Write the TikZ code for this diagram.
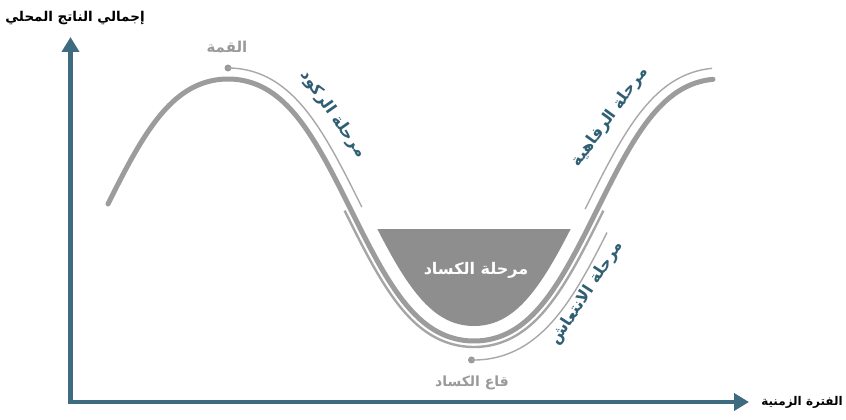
\documentclass[tikz,border=0pt]{standalone}
\usepackage{fontspec}
\usetikzlibrary{arrows.meta}
\TeXXeTstate=1
\newfontfamily\arabicfont[Script=Arabic]{DejaVu Sans}
\definecolor{axisteal}{HTML}{3E6B80}
\definecolor{curvegray}{HTML}{9C9C9C}
\definecolor{fillgray}{HTML}{8E8E8E}
\definecolor{labelgray}{HTML}{9A9A9A}
\definecolor{thingray}{HTML}{A8A8A8}
\definecolor{phaseteal}{HTML}{305F74}
\tikzset{
  axisline/.style={line width=4.5pt, draw=axisteal, line join=miter},
  mainwave/.style={line width=5pt, draw=curvegray, line cap=round},
  outerline/.style={line width=2.4pt, draw=curvegray!90},
  phaseline/.style={line width=1.4pt, draw=thingray},
  markdot/.style={circle, fill=labelgray, inner sep=0pt, minimum size=7pt},
  graylabel/.style={font=\arabicfont\bfseries\fontsize{15}{17}\selectfont, text=labelgray},
  whitelabel/.style={font=\arabicfont\bfseries\fontsize{16}{18}\selectfont, text=white},
  phaselabel/.style={font=\arabicfont\bfseries\fontsize{16}{18}\selectfont, text=phaseteal},
  axislabel/.style={font=\arabicfont\bfseries\fontsize{13.5}{15}\selectfont, text=black},
}
\begin{document}
\begin{tikzpicture}[x=1pt,y=-1pt,
  declare function={
    wth(\a)=(\a-228)*0.731707;
    wcv(\a)=cos(wth(\a));
    wfy(\a)=210-131*(1.2*wcv(\a)-0.2*wcv(\a)*wcv(\a)*wcv(\a));
    wfp(\a)=131*(1.2-0.6*wcv(\a)*wcv(\a))*sin(wth(\a))*0.012771;
    wnx(\a)=wfp(\a)/sqrt(1+wfp(\a)*wfp(\a));
    wny(\a)=-1/sqrt(1+wfp(\a)*wfp(\a));
  }]
\useasboundingbox[fill=white] (0,0) rectangle (846,420);

% depression fill
\begin{scope}
  \clip (300,229) rectangle (700,400);
  \fill[fillgray] plot[domain=340:610, samples=120] ({\x+15*wnx(\x)},{wfy(\x)+15*wny(\x)}) -- cycle;
\end{scope}

% main wave
\draw[mainwave] plot[domain=108:713, samples=220] (\x,{wfy(\x)});
% outer line around the trough
\draw[outerline] plot[domain=350:598, samples=120] ({\x-6*wnx(\x)},{wfy(\x)-6*wny(\x)});

% phase lines and dots
\node[markdot] (peakdot) at ({228+11*wnx(228)},{wfy(228)+11*wny(228)}) {};
\draw[phaseline] plot[domain=228:352, samples=80] ({\x+11*wnx(\x)},{wfy(\x)+11*wny(\x)});
\node[markdot] (troughdot) at ({472-19*wnx(472)},{wfy(472)-19*wny(472)}) {};
\draw[phaseline] plot[domain=472:590, samples=80] ({\x-19*wnx(\x)},{wfy(\x)-19*wny(\x)});
\draw[phaseline] plot[domain=595:713, samples=80] ({\x+11*wnx(\x)},{wfy(\x)+11*wny(\x)});

% axes
\coordinate (origin) at (70.5,402);
\coordinate (ytip) at (70.5,37);
\coordinate (xtip) at (749,402);
\draw[axisline, {Triangle[width=17pt,length=15pt]}-{Triangle[width=17pt,length=15pt]}] (ytip) -- (origin) -- (xtip);

% labels
\node[axislabel] (ylab) at (75,18) {\beginR إجمالي الناتج المحلي\endR};
\node[axislabel, font=\arabicfont\bfseries\fontsize{12}{14}\selectfont] (xlab) at (802,402) {\beginR الفترة الزمنية\endR};
\node[graylabel] (peak) at (227,47) {\beginR القمة\endR};
\node[graylabel, font=\arabicfont\bfseries\fontsize{14}{16}\selectfont] (trough) at (472,383) {\beginR قاع الكساد\endR};
\node[whitelabel] (depr) at (476,270) {\beginR مرحلة الكساد\endR};
\node[phaselabel, rotate=-55] (recess) at (333,114) {\beginR مرحلة الركود\endR};
\node[phaselabel, rotate=54] (prosp) at (610,117) {\beginR مرحلة الرفاهية\endR};
\node[phaselabel, rotate=57] (recov) at (587,293) {\beginR مرحلة الانتعاش\endR};
\end{tikzpicture}
\end{document}
